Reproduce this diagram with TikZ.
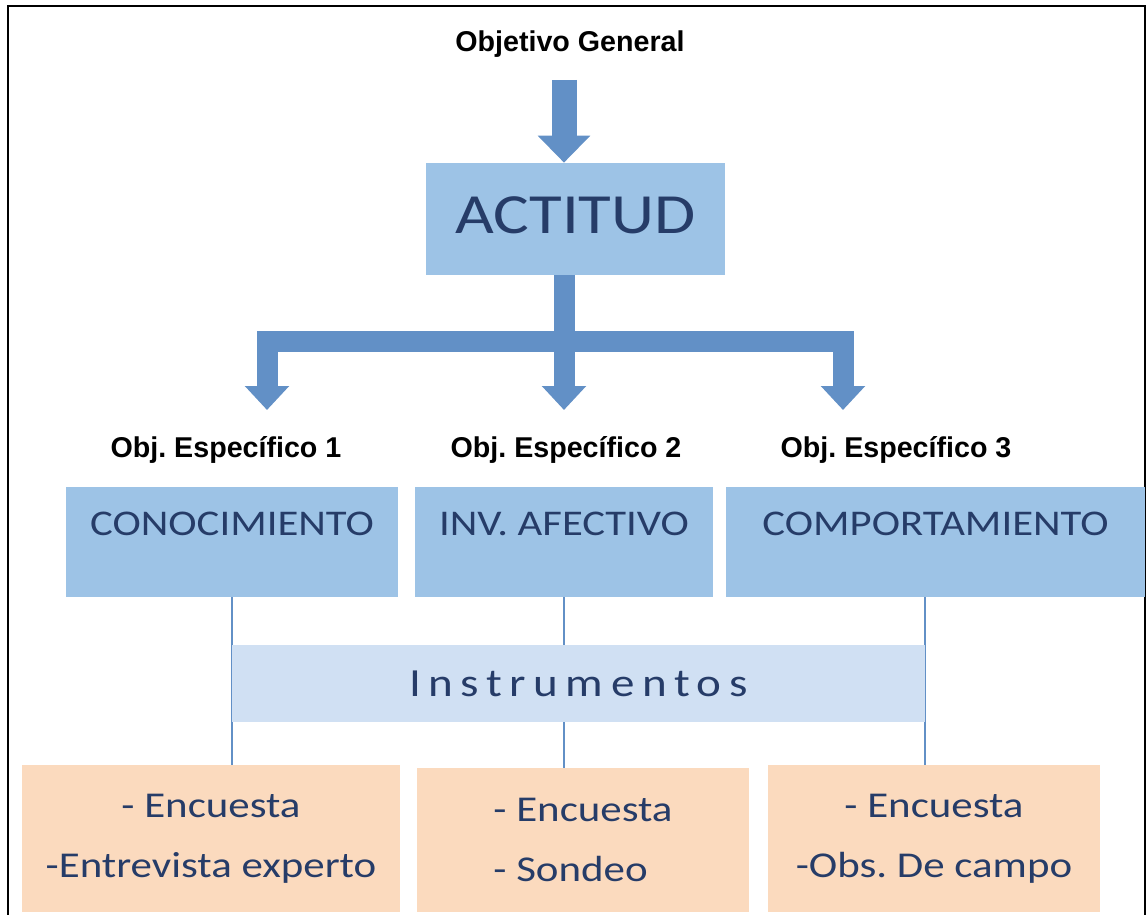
\documentclass[tikz,border=0pt]{standalone}
\usepackage{fontspec}
\usepackage{xcolor}
\usepackage{tikz}
\usetikzlibrary{arrows.meta,backgrounds}

\newfontfamily\labelfont{Liberation Sans}
\newfontfamily\boxfont[FakeStretch=1.18]{Carlito}
\newfontfamily\spacedfont[FakeStretch=1.18,LetterSpace=19]{Carlito}
\frenchspacing

\definecolor{arrowblue}{RGB}{98,144,198}
\definecolor{boxblue}{RGB}{157,195,230}
\definecolor{paleblue}{RGB}{208,224,243}
\definecolor{boxorange}{RGB}{251,218,190}
\definecolor{textblue}{RGB}{38,60,104}

\begin{document}
\begin{tikzpicture}[x=0.02cm,y=-0.02cm,
    objlabel/.style={font=\labelfont\bfseries\fontsize{16.3}{19}\selectfont},
    topbox/.style={fill=boxblue, text=textblue, minimum width=59.8mm, minimum height=22.4mm,
      inner sep=0pt, text depth=1.6mm, font=\boxfont\fontsize{32.3}{38}\selectfont},
    aspect/.style={fill=boxblue, text=textblue, minimum height=22mm, inner sep=0pt,
      text height=4.8mm, text depth=7.6mm, font=\boxfont\fontsize{20.6}{24}\selectfont},
    instr/.style={fill=paleblue, text=textblue, minimum width=138.6mm, minimum height=15.4mm,
      inner sep=0pt, font=\spacedfont\fontsize{22.7}{27}\selectfont},
    tool/.style={fill=boxorange, text=textblue, align=center, inner sep=0pt,
      minimum height=29.4mm, font=\boxfont\fontsize{20.7}{34}\selectfont},
    bigarrow/.style={arrowblue, line width=0.5cm, -{Triangle[width=1.02cm, length=0.54cm]}},
    branch/.style={arrowblue, line width=0.42cm, line join=miter,
      -{Triangle[width=0.86cm, length=0.48cm]}},
    link/.style={arrowblue, line width=1.1pt}]
  \useasboundingbox (0,0) rectangle (1147,915);
  % Frame
  \draw[line width=1.4pt] (8,915) |- (1145,6) -- (1145,915);

  % General objective
  \node[objlabel] (general) at (570,44) {Objetivo General};
  \node[topbox] (actitud) at (575.5,219) {ACTITUD};
  \coordinate (stem) at (564,80);
  \draw[bigarrow] (stem) -- (stem |- actitud.north);

  % Branches to the specific objectives
  \coordinate (split) at (564,342);
  \coordinate (tip1) at (267,410);
  \coordinate (tip2) at (564,410);
  \coordinate (tip3) at (843,410);
  \draw[branch] (stem |- actitud.south) -- (split) -| (tip1);
  \draw[branch] (stem |- actitud.south) -- (tip2);
  \draw[branch] (split) -| (tip3);

  % Specific objectives
  \node[objlabel] (esp1) at (226,450) {Obj. Específico 1};
  \node[objlabel] (esp2) at (566,450) {Obj. Específico 2};
  \node[objlabel] (esp3) at (896,450) {Obj. Específico 3};
  \node[aspect, minimum width=66.4mm] (conoc) at (232,542) {CONOCIMIENTO};
  \node[aspect, minimum width=59.6mm] (afect) at (564,542) {INV. AFECTIVO};
  \node[aspect, minimum width=83.8mm] (comport) at (935.5,542) {COMPORTAMIENTO};

  % Instruments
  \node[instr] (instr) at (578.5,683.5) {Instrumentos};
  \node[tool, minimum width=75.6mm] (tool1) at (211,838.5) {- Encuesta\\-Entrevista experto};
  \node[tool, minimum width=66.4mm, minimum height=28.8mm, align=left] (tool2) at (583,840)
    {- Encuesta\\ - Sondeo};
  \node[tool, minimum width=66.4mm] (tool3) at (934,838.5) {- Encuesta\\-Obs. De campo};

  % Thin links, behind the boxes
  \begin{scope}[on background layer]
    \draw[link] (instr.west |- conoc.south) -- (instr.west |- tool1.north);
    \draw[link] (afect.south) -- (afect.south |- tool2.north);
    \draw[link] (instr.east |- comport.south) -- (instr.east |- tool3.north);
  \end{scope}
\end{tikzpicture}
\end{document}
